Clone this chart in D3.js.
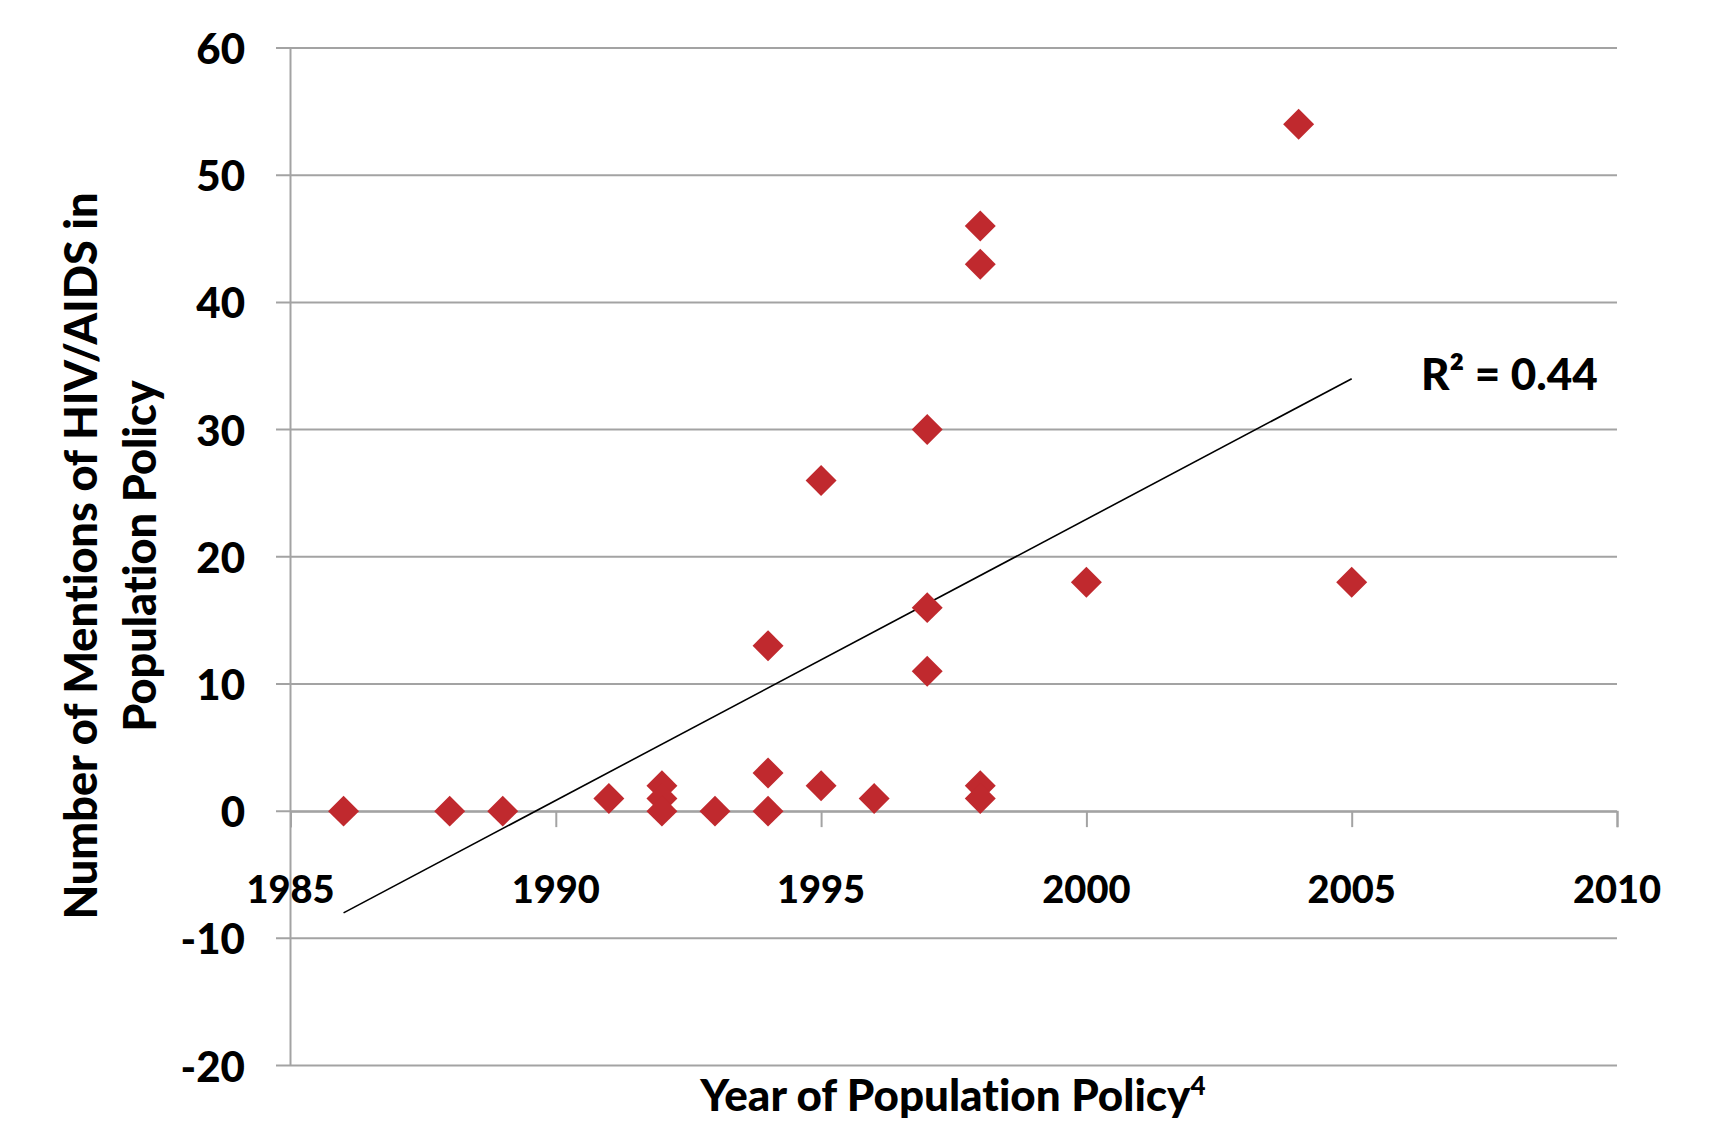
<!DOCTYPE html>
<html><head><meta charset="utf-8">
<script src="https://cdn.jsdelivr.net/npm/d3@7"></script>
<style>
html,body{margin:0;padding:0;background:#fff;}
svg{display:block;}
text{font-family:Lato,"Open Sans",sans-serif;font-weight:700;fill:#000;font-variant-ligatures:none;}
</style></head>
<body>
<svg id="chart" width="1712" height="1122"></svg>
<script>
// Data
const years    = [1986,1988,1989,1991,1992,1992,1992,1993,1994,1994,1994,1995,1995,1996,1997,1997,1997,1998,1998,1998,1998,2000,2004,2005];
const mentions = [0,   0,   0,   1,   2,   1,   0,   0,   13,  3,   0,   26,  2,   1,   30,  16,  11,  46,  43,  2,   1,   18,  54,  18];
const trendYears  = [1986, 2005];
const trendValues = [-8, 34];
const xTicks = [1985,1990,1995,2000,2005,2010];
const yTicks = [-20,-10,0,10,20,30,40,50,60];
const rSquaredLabel = "R\u00B2 = 0.44";

const svg = d3.select("#chart");
const x = d3.scaleLinear().domain([1985, 2010]).range([290.5, 1617]);
const y = d3.scaleLinear().domain([-20, 60]).range([1065.5, 48]);
const grid = "#a3a3a3";

// Horizontal gridlines with left tick
svg.append("g").selectAll("line").data(yTicks).join("line")
  .attr("x1", 276).attr("x2", x(2010))
  .attr("y1", d => y(d)).attr("y2", d => y(d))
  .attr("stroke", grid).attr("stroke-width", 2);

// Y axis line
svg.append("line").attr("x1", x(1985)).attr("x2", x(1985))
  .attr("y1", y(60)).attr("y2", y(-20)).attr("stroke", grid).attr("stroke-width", 2);

// X axis at y=0 with ticks
const xAxis = d3.axisBottom(x).tickValues(xTicks).tickSize(16).tickFormat("");
const gx = svg.append("g").attr("transform", `translate(0,${y(0)})`).call(xAxis);
gx.select(".domain").attr("stroke", grid).attr("stroke-width", 2);
gx.selectAll(".tick line").attr("stroke", grid).attr("stroke-width", 2);

// Y tick labels
svg.append("g").selectAll("text").data(yTicks).join("text")
  .attr("x", 245).attr("y", d => y(d))
  .attr("text-anchor", "end").attr("dominant-baseline", "central")
  .style("font-size", "42px").style("font-weight", 900).text(d => d);

// X tick labels
svg.append("g").selectAll("text").data(xTicks).join("text")
  .attr("x", d => x(d)).attr("y", 903)
  .attr("text-anchor", "middle")
  .style("font-size", "38px").style("font-weight", 900).text(d => d);

// Trend line
const line = d3.line().x(d => x(d[0])).y(d => y(d[1]));
svg.append("path").datum(trendYears.map((t,i) => [t, trendValues[i]]))
  .attr("d", line).attr("fill", "none").attr("stroke", "#000").attr("stroke-width", 1.6);

// Diamonds
const sym = d3.symbol().type(d3.symbolSquare).size(480);
svg.append("g").selectAll("path").data(years.map((yr,i) => [yr, mentions[i]])).join("path")
  .attr("d", sym)
  .attr("transform", d => `translate(${x(d[0])},${y(d[1])}) rotate(45)`)
  .attr("fill", "#C0292E");

// R² label
svg.append("text").attr("x", 1421).attr("y", 390)
  .style("font-size", "44px").style("font-weight", 900).text(rSquaredLabel);

// Y axis title
const yt = svg.append("text").attr("transform", "translate(97,556) rotate(-90)")
  .attr("text-anchor", "middle").style("font-size", "45px").style("font-weight", 900);
yt.append("tspan").attr("x", 0).attr("y", 0).text("Number of Mentions of HIV/AIDS in");
yt.append("tspan").attr("x", 0).attr("y", 59).text("Population Policy");

// X axis title
const xt = svg.append("text").attr("x", 953).attr("y", 1111)
  .attr("text-anchor", "middle").style("font-size", "44px").style("font-weight", 900);
xt.append("tspan").text("Year of Population Policy");
xt.append("tspan").attr("dy", -16).style("font-size", "26px").text("4");
</script>
</body></html>
